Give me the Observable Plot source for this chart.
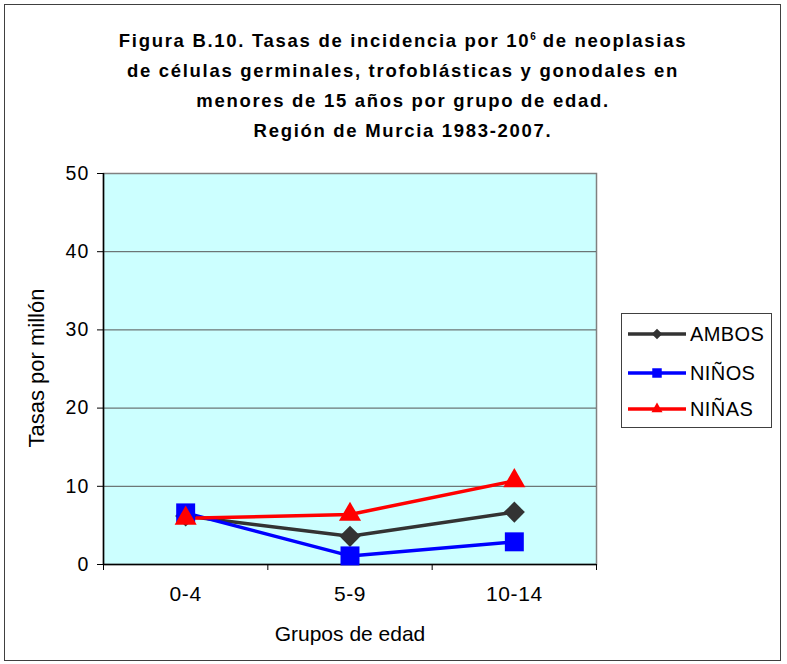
<!DOCTYPE html>
<html><head><meta charset="utf-8">
<script src="https://cdn.jsdelivr.net/npm/d3@7"></script>
<script src="https://cdn.jsdelivr.net/npm/@observablehq/plot@0.6"></script>
<style>
body{margin:0;background:#fff;font-family:"Liberation Sans",Arial,sans-serif;}
#wrap{position:relative;width:787px;height:664px;overflow:hidden;}
#border{position:absolute;left:4px;top:4px;width:775px;height:655px;border:1.5px solid #404040;}
#title{position:absolute;left:0;width:806px;top:26px;text-align:center;font-weight:bold;font-size:18.5px;line-height:30px;color:#000;letter-spacing:1.7px;}
#title sup{font-size:10px;vertical-align:7px;line-height:0;letter-spacing:0}
#chart{position:absolute;left:0;top:0;}
#xlabel{position:absolute;left:200px;width:300px;top:622px;text-align:center;font-size:21px;}
#ylabel{position:absolute;left:37px;top:368px;font-size:22px;white-space:nowrap;transform:translate(-50%,-50%) rotate(-90deg);}
#legend{position:absolute;left:621px;top:313px;width:149px;height:113px;border:1px solid #404040;background:#fff;}
.li{position:absolute;left:6px;height:20px;display:flex;align-items:center;font-size:20px;letter-spacing:0.4px}
.li svg{margin-right:4px}
</style></head>
<body>
<div id="wrap">
  <div id="border"></div>
  <div id="title">Figura B.10. Tasas de incidencia por 10<sup>6</sup> de neoplasias<br>de células germinales, trofoblásticas y gonodales en<br>menores de 15 años por grupo de edad.<br>Región de Murcia 1983-2007.</div>
  <div id="chart"></div>
  <div id="xlabel">Grupos de edad</div>
  <div id="ylabel">Tasas por millón</div>
  <div id="legend"></div>
</div>
<script>
const grupos = ["0-4", "5-9", "10-14"];
const series = ["AMBOS", "NIÑOS", "NIÑAS"];
const ambos = [6.2, 3.6, 6.7];
const ninos = [6.6, 1.1, 2.9];
const ninas = [5.9, 6.4, 10.7];
const yTicks = [0, 10, 20, 30, 40, 50];

const values = {"AMBOS": ambos, "NIÑOS": ninos, "NIÑAS": ninas};
const style = {
  "AMBOS": {color: "#333333", symbol: d3.symbolDiamond2, r: 9.5},
  "NIÑOS": {color: "#0000ff", symbol: "square", r: 10.7},
  "NIÑAS": {color: "#ff0000", symbol: "triangle", r: 8.2}
};
const rows = series.flatMap(s => grupos.map((g, i) => ({serie: s, grupo: g, i: i + 0.5, v: values[s][i]})));

const W = 787, H = 664;
const marks = [
  Plot.frame({fill: "#ccffff", stroke: "#808080", strokeWidth: 1.5}),
  Plot.gridY(yTicks.filter(t => t > 0 && t < 50), {stroke: "#555", strokeOpacity: 1}),
  Plot.axisY({ticks: yTicks, tickSize: 6, tickPadding: 8, fontSize: 19.5, label: null, stroke: "#000"}),
  Plot.axisX({ticks: d3.range(grupos.length + 1), tickSize: 6, tickFormat: () => "", label: null}),
  Plot.axisX({ticks: grupos.map((g, i) => i + 0.5), tickSize: 0, tickPadding: 22, fontSize: 21, tickFormat: d => grupos[Math.floor(d)], label: null}),
  Plot.ruleX([0], {stroke: "#000", strokeWidth: 1.5}),
  Plot.ruleY([0], {stroke: "#000", strokeWidth: 1.5}),
  ...series.map(s => Plot.line(rows.filter(d => d.serie === s), {x: "i", y: "v", stroke: style[s].color, strokeWidth: 3.5})),
  ...series.map(s => Plot.dot(rows.filter(d => d.serie === s), {x: "i", y: "v", fill: style[s].color, symbol: style[s].symbol, r: style[s].r, stroke: "none"}))
];
const chart = Plot.plot({
  width: W, height: H,
  marginLeft: 103, marginRight: 191, marginTop: 173, marginBottom: 100,
  x: {type: "linear", domain: [0, grupos.length]},
  y: {domain: [0, 50]},
  style: {fontFamily: "'Liberation Sans', Arial, sans-serif", color: "#000", background: "transparent"},
  marks
});
d3.select(chart).selectAll('g[aria-label="y-axis tick label"]').attr("letter-spacing", "1.2px");
d3.select(chart).selectAll('g[aria-label="x-axis tick label"]').attr("letter-spacing", "0.6px");
document.getElementById("chart").appendChild(chart);

// Legend
const leg = document.getElementById("legend");
const legY = [10, 49, 85];
series.forEach((s, k) => {
  const div = document.createElement("div");
  div.className = "li";
  div.style.top = legY[k] + "px";
  const sym = typeof style[s].symbol === "string" ? ({square: d3.symbolSquare, triangle: d3.symbolTriangle})[style[s].symbol] : style[s].symbol;
  const p = d3.symbol(sym, (style[s].r * 0.5) ** 2 * Math.PI)();
  div.innerHTML = `<svg width="58" height="20"><line x1="0" x2="58" y1="10" y2="10" stroke="${style[s].color}" stroke-width="3.5"/><path d="${p}" transform="translate(29,10)" fill="${style[s].color}"/></svg><span>${s}</span>`;
  leg.appendChild(div);
});
</script>
</body></html>
